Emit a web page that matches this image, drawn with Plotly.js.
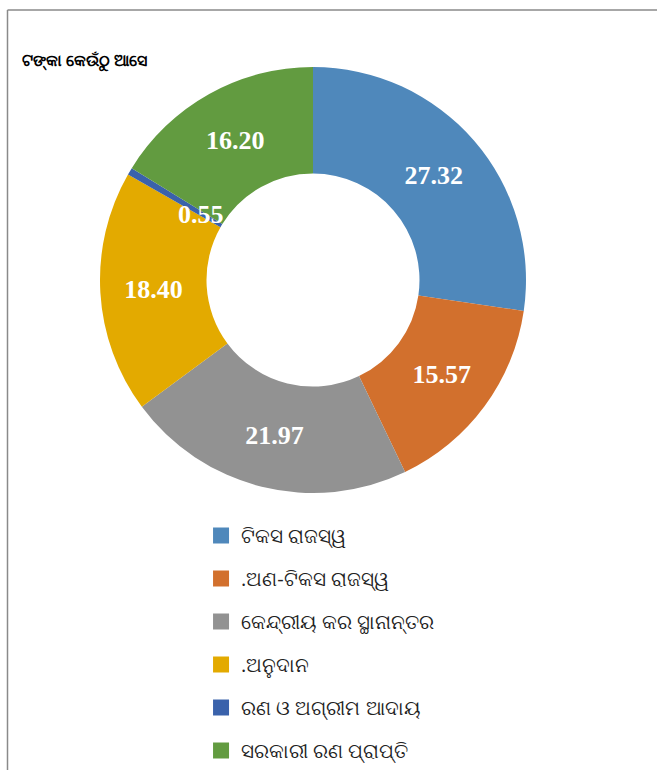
<style>body { margin: 0; }</style>
<script src="https://cdn.plot.ly/plotly-3.0.1.min.js"></script>
<div id="chart" style="width:657px;height:770px;"></div>
<script>
// where the money comes from (share, %)
const labels = ["ଟିକସ ରାଜସ୍ୱ", ".ଅଣ-ଟିକସ ରାଜସ୍ୱ", "କେନ୍ଦ୍ରୀୟ କର ସ୍ଥାନାନ୍ତର", ".ଅନୁଦାନ", "ରଣ ଓ ଅଗ୍ରୀମ ଆଦାୟ", "ସରକାରୀ ରଣ ପ୍ରାପ୍ତି"];
const values = [27.32, 15.57, 21.97, 18.40, 0.55, 16.20];
const valueText = ["27.32", "15.57", "21.97", "18.40", "0.55", "16.20"];
const colors = ["#4F88BB", "#D2702D", "#929292", "#E3AA00", "#3A62AB", "#629B40"];

const W = 657, H = 770;
const dom = { x: [0.1522, 0.8006], y: [0.3597, 0.913] };
const hole = 0.5;
const labelFont = { family: 'Liberation Serif', size: 26, color: 'white', weight: 'bold' };

// slices too thin for inside text get their label placed by hand on the ring
const tooThin = values.map(v => v < 1);

const pie = {
  type: 'pie',
  labels: labels,
  values: values,
  text: valueText.map((t, i) => tooThin[i] ? '' : t),
  textinfo: 'text',
  textposition: 'inside',
  insidetextorientation: 'horizontal',
  textfont: labelFont,
  hole: hole,
  sort: false,
  direction: 'clockwise',
  rotation: 0,
  marker: { colors: colors, line: { width: 0 } },
  domain: dom,
  showlegend: false,
  hoverinfo: 'label+value'
};

// legend-only entries so the rows can be spaced like the original
const legendTraces = labels.map((lab, i) => ({
  type: 'scatter',
  mode: 'markers',
  x: [null], y: [null],
  name: lab,
  legendgroup: 'g' + i,
  marker: { symbol: 'square', size: 16, color: colors[i] },
  hoverinfo: 'skip'
}));

// ring position of thin slices, from the values
const total = values.reduce((a, b) => a + b, 0);
const cx = W * (dom.x[0] + dom.x[1]) / 2;
const cy = H * (1 - (dom.y[0] + dom.y[1]) / 2);
const R = Math.min(W * (dom.x[1] - dom.x[0]), H * (dom.y[1] - dom.y[0])) / 2;
const rMid = R * (1 + hole) / 2;
const annotations = [];
let cum = 0;
values.forEach((v, i) => {
  const a = 2 * Math.PI * (cum + v / 2) / total;
  cum += v;
  if (!tooThin[i]) return;
  annotations.push({
    xref: 'paper', yref: 'paper',
    x: (cx + rMid * Math.sin(a)) / W,
    y: 1 - (cy - rMid * Math.cos(a)) / H,
    text: valueText[i], showarrow: false,
    font: labelFont
  });
});

const layout = {
  width: W,
  height: H,
  margin: { l: 0, r: 0, t: 0, b: 0, autoexpand: false },
  paper_bgcolor: 'white',
  plot_bgcolor: 'white',
  xaxis: { visible: false },
  yaxis: { visible: false },
  showlegend: true,
  uniformtext: { mode: 'show', minsize: 26 },
  title: {
    text: '<b>ଟଙ୍କା କେଉଁଠୁ ଆସେ</b>',
    x: 22 / W, xanchor: 'left', xref: 'paper',
    y: 1 - 60 / H, yanchor: 'middle', yref: 'paper',
    font: { size: 16, color: 'black' }
  },
  legend: {
    x: 0.306, xanchor: 'left',
    y: 0, yanchor: 'bottom',
    font: { size: 20, color: '#222' },
    tracegroupgap: 14,
    itemclick: false,
    itemdoubleclick: false
  },
  annotations: annotations,
  shapes: [
    { type: 'line', xref: 'paper', yref: 'paper', x0: 7.5 / W, x1: 7.5 / W, y0: 1 - 10 / H, y1: -0.1, line: { color: '#8a8a8a', width: 1.5 } },
    { type: 'line', xref: 'paper', yref: 'paper', x0: 7.5 / W, x1: 1.1, y0: 1 - 10 / H, y1: 1 - 10 / H, line: { color: '#8a8a8a', width: 1.5 } }
  ]
};

Plotly.newPlot('chart', [pie, ...legendTraces], layout, { displayModeBar: false });
</script>
